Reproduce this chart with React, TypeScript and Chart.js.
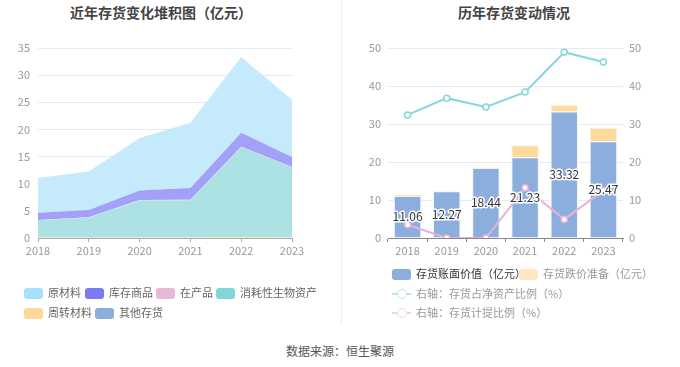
import React, { useEffect, useRef } from 'react';
import { Chart, registerables } from 'chart.js';
Chart.register(...registerables);

const years = ['2018', '2019', '2020', '2021', '2022', '2023'];
// left stacked area (亿元)
const rawMaterial = [6.41, 7.12, 9.71, 12.03, 13.92, 10.57];
const inventoryGoods = [1.35, 1.35, 1.75, 2.15, 2.6, 1.8];
const wip = [0.05, 0.05, 0.05, 0.1, 0.05, 0.05];
const bioAssets = [3.15, 3.65, 6.85, 6.8, 16.6, 12.95];
const turnover = [0.1, 0.1, 0.08, 0.1, 0.15, 0.1];
const otherInv = [0, 0, 0, 0.05, 0, 0];
// right chart
const bookValue = [11.06, 12.27, 18.44, 21.23, 33.32, 25.47];
const provision = [0.35, 0, 0.05, 3.15, 1.68, 3.57];
const netAssetRatio = [32.4, 36.8, 34.5, 38.4, 48.9, 46.3];
const provisionRatio = [3.5, 0, 0, 13.2, 4.9, 12.5];

const FONT = '"Noto Sans CJK SC", "Noto Sans", sans-serif';
const GRID = '#e6eaf2';
const TICK = '#999';

const barLabelPlugin = {
  id: 'barLabels',
  afterDatasetsDraw(chart: any) {
    const meta = chart.getDatasetMeta(0);
    const ctx = chart.ctx;
    ctx.save();
    ctx.font = `12px ${FONT}`;
    ctx.textAlign = 'center';
    ctx.textBaseline = 'middle';
    ctx.lineJoin = 'round';
    meta.data.forEach((bar: any, i: number) => {
      const v = bookValue[i];
      const y = (bar.y + bar.base) / 2;
      const t = v.toFixed(2);
      ctx.lineWidth = 3;
      ctx.strokeStyle = '#fff';
      ctx.strokeText(t, bar.x, y);
      ctx.fillStyle = '#333';
      ctx.fillText(t, bar.x, y);
    });
    ctx.restore();
  },
};

export default function App() {
  const leftRef = useRef<HTMLCanvasElement>(null);
  const rightRef = useRef<HTMLCanvasElement>(null);

  useEffect(() => {
    document.body.style.margin = '0';
    Chart.defaults.font.family = FONT;
    const areaSets = [
      { label: '周转材料', data: turnover, color: '#fde6bf' },
      { label: '其他存货', data: otherInv, color: '#bcd0ee' },
      { label: '消耗性生物资产', data: bioAssets, color: '#ace2e3' },
      { label: '在产品', data: wip, color: '#f0d0e6' },
      { label: '库存商品', data: inventoryGoods, color: '#a3a0f7' },
      { label: '原材料', data: rawMaterial, color: '#c4eafb' },
    ];
    const left = new Chart(leftRef.current!, {
      type: 'line',
      data: {
        labels: years,
        datasets: areaSets.map((s, i) => ({
          label: s.label,
          data: s.data,
          backgroundColor: s.color,
          borderColor: s.color,
          borderWidth: 0,
          pointRadius: 0,
          tension: 0,
          fill: i === 0 ? 'origin' : '-1',
        })),
      },
      options: {
        animation: false,
        responsive: false,
        layout: { padding: { left: 0, right: 48, top: 48, bottom: 0 } },
        plugins: { legend: { display: false }, tooltip: { enabled: false } },
        scales: {
          x: {
            offset: false,
            afterFit: (s: any) => { s.height = 22; },
            grid: { display: true, drawOnChartArea: false, drawTicks: true, tickLength: 4, color: '#aaa' },
            border: { color: '#aaa' },
            ticks: { color: TICK, font: { size: 11 }, padding: 2, maxRotation: 0 },
          },
          y: {
            stacked: true,
            min: 0,
            max: 35,
            afterFit: (s: any) => { s.width = 38; },
            grid: { color: GRID, drawTicks: false },
            border: { display: false },
            ticks: { stepSize: 5, color: TICK, font: { size: 11 }, padding: 8 },
          },
        },
      },
    });

    const right = new Chart(rightRef.current!, {
      type: 'bar',
      data: {
        labels: years,
        datasets: [
          {
            type: 'bar',
            label: '存货账面价值（亿元）',
            data: bookValue,
            backgroundColor: '#8caedc',
            borderColor: '#eef3fa',
            borderWidth: 1,
            stack: 's',
            yAxisID: 'y',
            order: 2,
            barPercentage: 0.7,
            categoryPercentage: 1,
          },
          {
            type: 'bar',
            label: '存货跌价准备（亿元）',
            data: provision,
            backgroundColor: '#fdd99a',
            borderColor: '#fdf3e0',
            borderWidth: 1,
            stack: 's',
            yAxisID: 'y',
            order: 2,
            barPercentage: 0.7,
            categoryPercentage: 1,
          },
          {
            type: 'line',
            label: '右轴：存货占净资产比例（%）',
            data: netAssetRatio,
            borderColor: '#86d6dc',
            backgroundColor: '#fff',
            borderWidth: 2,
            pointRadius: 3,
            pointBorderWidth: 1.5,
            pointBackgroundColor: '#fff',
            pointBorderColor: '#86d6dc',
            tension: 0,
            yAxisID: 'y1',
            order: 1,
          },
          {
            type: 'line',
            label: '右轴：存货计提比例（%）',
            data: provisionRatio,
            borderColor: '#e6b2d8',
            backgroundColor: '#fff',
            borderWidth: 2,
            pointRadius: 3,
            pointBorderWidth: 1.5,
            pointBackgroundColor: '#fff',
            pointBorderColor: '#e6b2d8',
            tension: 0,
            yAxisID: 'y1',
            order: 1,
          },
        ],
      },
      options: {
        animation: false,
        responsive: false,
        layout: { padding: { left: 0, right: 17, top: 48, bottom: 0 } },
        plugins: { legend: { display: false }, tooltip: { enabled: false } },
        scales: {
          x: {
            stacked: true,
            afterFit: (s: any) => { s.height = 22; },
            grid: { display: true, drawOnChartArea: false, drawTicks: true, tickLength: 4, color: '#888', offset: true },
            border: { color: '#888' },
            ticks: { color: TICK, font: { size: 11 }, padding: 2, maxRotation: 0 },
          },
          y: {
            stacked: true,
            position: 'left',
            min: 0,
            max: 50,
            afterFit: (s: any) => { s.width = 48; },
            grid: { color: GRID, drawTicks: false },
            border: { display: false },
            ticks: { stepSize: 10, color: TICK, font: { size: 11 }, padding: 7 },
          },
          y1: {
            position: 'right',
            min: 0,
            max: 50,
            afterFit: (s: any) => { s.width = 40; },
            grid: { drawOnChartArea: false, drawTicks: false },
            border: { display: false },
            ticks: { stepSize: 10, color: TICK, font: { size: 11 }, padding: 6 },
          },
        },
      },
      plugins: [barLabelPlugin],
    });

    return () => {
      left.destroy();
      right.destroy();
    };
  }, []);

  const text = (s: React.CSSProperties): React.CSSProperties => ({
    position: 'absolute',
    fontFamily: FONT,
    whiteSpace: 'nowrap',
    lineHeight: '1',
    ...s,
  });
  const swatch = (x: number, y: number, color: string): React.CSSProperties => ({
    position: 'absolute',
    left: x,
    top: y - 5,
    width: 19,
    height: 11,
    borderRadius: 3,
    background: color,
  });

  const leftLegend = [
    { label: '原材料', color: '#a6e0fa', x: 24, y: 293 },
    { label: '库存商品', color: '#7b7bf0', x: 85, y: 293 },
    { label: '在产品', color: '#e8b8d8', x: 156, y: 293 },
    { label: '消耗性生物资产', color: '#80d6d8', x: 216, y: 293 },
    { label: '周转材料', color: '#fdd899', x: 24, y: 313 },
    { label: '其他存货', color: '#8caedc', x: 95, y: 313 },
  ];

  const lineIcon = (x: number, y: number, color: string) => (
    <div style={{ position: 'absolute', left: x, top: y - 6, width: 19, height: 12 }}>
      <div style={{ position: 'absolute', left: 0, top: 5, width: 19, height: 2, background: color }} />
      <div
        style={{
          position: 'absolute',
          left: 4.5,
          top: 1,
          width: 8,
          height: 8,
          borderRadius: '50%',
          border: `1.5px solid ${color}`,
          background: '#fff',
        }}
      />
    </div>
  );

  return (
    <div style={{ position: 'relative', width: 680, height: 367, background: '#fff', overflow: 'hidden' }}>
      <div style={text({ left: 0, width: 322, top: 5, textAlign: 'center', fontSize: 14, fontWeight: 'bold', color: '#444' })}>
        近年存货变化堆积图（亿元）
      </div>
      <div style={text({ left: 340, width: 348, top: 5, textAlign: 'center', fontSize: 14, fontWeight: 'bold', color: '#444' })}>
        历年存货变动情况
      </div>
      <canvas ref={leftRef} width={340} height={260} style={{ position: 'absolute', left: 0, top: 0, width: 340, height: 260 }} />
      <canvas ref={rightRef} width={340} height={260} style={{ position: 'absolute', left: 340, top: 0, width: 340, height: 260 }} />
      <div style={{ position: 'absolute', left: 341, top: 0, width: 1, height: 325, background: '#eee' }} />

      {leftLegend.map((l) => (
        <React.Fragment key={l.label}>
          <div style={swatch(l.x, l.y, l.color)} />
          <div style={text({ left: l.x + 24, top: l.y - 6, fontSize: 11, color: '#666' })}>{l.label}</div>
        </React.Fragment>
      ))}

      <div style={swatch(392, 274, '#8caedc')} />
      <div style={text({ left: 416, top: 268, fontSize: 11, color: '#333' })}>存货账面价值（亿元）</div>
      <div style={swatch(519, 274, '#fde7c4')} />
      <div style={text({ left: 543, top: 268, fontSize: 11, color: '#999' })}>存货跌价准备（亿元）</div>
      {lineIcon(392, 294, '#b8e6e9')}
      <div style={text({ left: 416, top: 288, fontSize: 11, color: '#999' })}>右轴：存货占净资产比例（%）</div>
      {lineIcon(392, 313, '#f2d2e8')}
      <div style={text({ left: 416, top: 307, fontSize: 11, color: '#999' })}>右轴：存货计提比例（%）</div>

      <div style={text({ left: 0, width: 680, top: 345, textAlign: 'center', fontSize: 12, color: '#555' })}>
        数据来源：恒生聚源
      </div>
    </div>
  );
}
